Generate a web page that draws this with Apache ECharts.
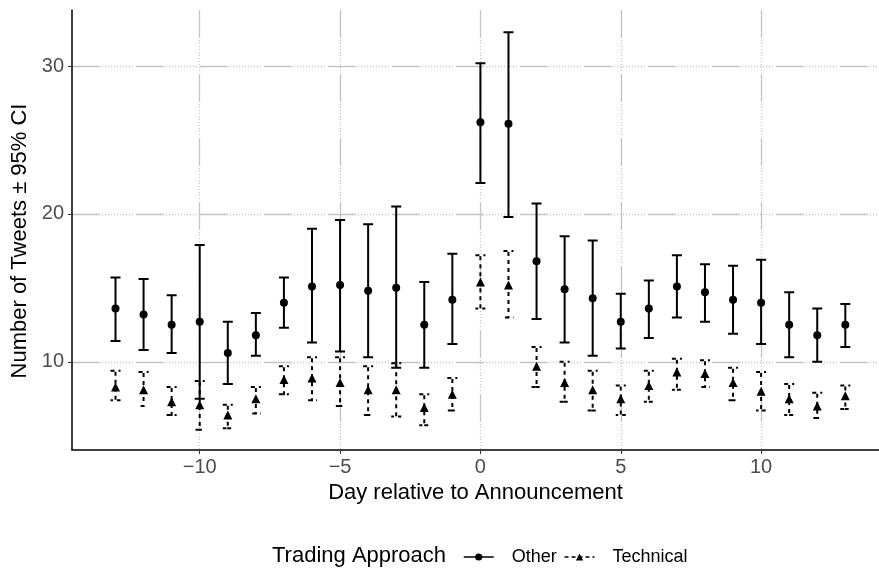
<!DOCTYPE html>
<html>
<head>
<meta charset="utf-8">
<script src="https://cdn.jsdelivr.net/npm/echarts@6/dist/echarts.min.js"></script>
<style>
  html, body { margin: 0; padding: 0; background: #fff; }
  #chart { width: 879px; height: 570px; }
</style>
</head>
<body>
<div id="chart"></div>
<script>
const days = [-13, -12, -11, -10, -9, -8, -7, -6, -5, -4, -3, -2, -1, 0, 1, 2, 3, 4, 5, 6, 7, 8, 9, 10, 11, 12, 13];

const otherMean = [13.6, 13.2, 12.5, 12.7, 10.6, 11.8, 14.0, 15.1, 15.2, 14.8, 15.0, 12.5, 14.2, 26.2, 26.1, 16.8, 14.9, 14.3, 12.7, 13.6, 15.1, 14.7, 14.2, 14.0, 12.5, 11.8, 12.5];
const otherLow = [11.4, 10.8, 10.6, 7.5, 8.5, 10.4, 12.3, 11.3, 10.7, 10.3, 9.6, 9.6, 11.2, 22.1, 19.8, 12.9, 11.3, 10.4, 10.9, 11.6, 13.0, 12.7, 11.9, 11.2, 10.3, 10.0, 11.0];
const otherHigh = [15.7, 15.6, 14.5, 17.9, 12.7, 13.3, 15.7, 19.0, 19.6, 19.3, 20.5, 15.4, 17.3, 30.2, 32.3, 20.7, 18.5, 18.2, 14.6, 15.5, 17.2, 16.6, 16.5, 16.9, 14.7, 13.6, 13.9];

const techMean = [8.3, 8.1, 7.3, 7.1, 6.4, 7.5, 8.8, 8.9, 8.6, 8.1, 8.1, 6.9, 7.8, 15.4, 15.2, 9.7, 8.6, 8.1, 7.5, 8.4, 9.3, 9.2, 8.6, 8.0, 7.5, 7.0, 7.7];
const techLow = [7.4, 7.0, 6.4, 5.4, 5.5, 6.5, 7.8, 7.4, 7.0, 6.4, 6.3, 5.7, 6.7, 13.6, 13.0, 8.3, 7.3, 6.7, 6.4, 7.3, 8.1, 8.3, 7.4, 6.7, 6.4, 6.2, 6.8];
const techHigh = [9.4, 9.3, 8.3, 8.7, 7.1, 8.3, 9.7, 10.3, 10.3, 9.7, 9.9, 7.8, 8.9, 17.2, 17.5, 11.0, 10.0, 9.4, 8.4, 9.4, 10.2, 10.1, 9.6, 9.3, 8.5, 7.9, 8.4];

const xTicks = [-10, -5, 0, 5, 10];
const yTicks = [10, 20, 30];

const font = 'Liberation Sans, Arial, sans-serif';
const gridDash = [28, 2, 1, 2, 1, 2, 1, 2, 1, 2, 1, 2, 1, 2, 1, 2, 1, 2, 1, 2, 1, 2, 1, 3];

function errorBars(dash) {
  return function (params, api) {
    const x = api.value(0);
    const lo = api.coord([x, api.value(1)]);
    const hi = api.coord([x, api.value(2)]);
    const w = 5;
    return {
      type: 'polyline',
      shape: {
        points: [
          [hi[0] - w, hi[1]], [hi[0] + w, hi[1]], [hi[0], hi[1]],
          [lo[0], lo[1]], [lo[0] - w, lo[1]], [lo[0] + w, lo[1]]
        ]
      },
      style: { stroke: '#000', lineWidth: 2, fill: null, lineDash: dash }
    };
  };
}

const chart = echarts.init(document.getElementById('chart'));
chart.setOption({
  animation: false,
  textStyle: { fontFamily: font },
  grid: { left: 72, right: 0, top: 10, bottom: 120 },
  title: {
    text: 'Trading Approach',
    left: 267, top: 540,
    textStyle: { fontSize: 22, fontWeight: 'normal', color: '#000', fontFamily: font }
  },
  legend: {
    left: 458, top: 543,
    itemWidth: 30, itemHeight: 9, itemGap: 7,
    textStyle: { fontSize: 18, color: '#000', fontFamily: font, padding: [0, 0, 0, 13] },
    data: [
      { name: 'Other', lineStyle: { opacity: 1, width: 1.5, type: 'solid', color: '#000' } },
      { name: 'Technical', lineStyle: { opacity: 1, width: 1.5, type: [4, 3], color: '#000' } }
    ]
  },
  xAxis: {
    type: 'value',
    min: -14.55, max: 14.2,
    name: 'Day relative to Announcement',
    nameLocation: 'middle', nameGap: 28,
    nameTextStyle: { fontSize: 22, color: '#000' },
    axisLine: { onZero: false, lineStyle: { color: '#000', width: 1.5 } },
    axisTick: { customValues: xTicks, length: 4, lineStyle: { color: '#333' } },
    axisLabel: {
      customValues: xTicks, fontSize: 20, color: '#4d4d4d', margin: 7,
      formatter: v => String(v).replace('-', '\u2212')
    },
    splitLine: { show: true, lineStyle: { color: '#c4c4c4', width: 1.3, type: gridDash } }
  },
  yAxis: {
    type: 'value',
    min: 4.03, max: 33.8,
    name: 'Number of Tweets \u00b1 95% CI',
    nameLocation: 'middle', nameGap: 38,
    nameTextStyle: { fontSize: 22, color: '#000', padding: [0, 22, 0, 0] },
    axisLine: { show: true, onZero: false, lineStyle: { color: '#000', width: 1.5 } },
    axisTick: { show: true, customValues: yTicks, length: 4, lineStyle: { color: '#333' } },
    axisLabel: { customValues: yTicks, fontSize: 20, color: '#4d4d4d', margin: 8 },
    splitLine: { show: true, lineStyle: { color: '#c4c4c4', width: 1.3, type: gridDash } }
  },
  series: [
    {
      name: 'Other bars', type: 'custom', z: 2,
      renderItem: errorBars(null),
      data: days.map((d, i) => [d, otherLow[i], otherHigh[i]])
    },
    {
      name: 'Technical bars', type: 'custom', z: 2,
      renderItem: errorBars([4, 4]),
      data: days.map((d, i) => [d, techLow[i], techHigh[i]])
    },
    {
      name: 'Other', type: 'line', z: 3,
      symbol: 'circle', symbolSize: 8, showSymbol: true,
      itemStyle: { color: '#000' },
      lineStyle: { opacity: 0 },
      data: days.map((d, i) => [d, otherMean[i]])
    },
    {
      name: 'Technical', type: 'line', z: 3,
      symbol: 'triangle', symbolSize: 9, showSymbol: true,
      itemStyle: { color: '#000' },
      lineStyle: { opacity: 0 },
      data: days.map((d, i) => [d, techMean[i]])
    }
  ]
});
</script>
</body>
</html>
